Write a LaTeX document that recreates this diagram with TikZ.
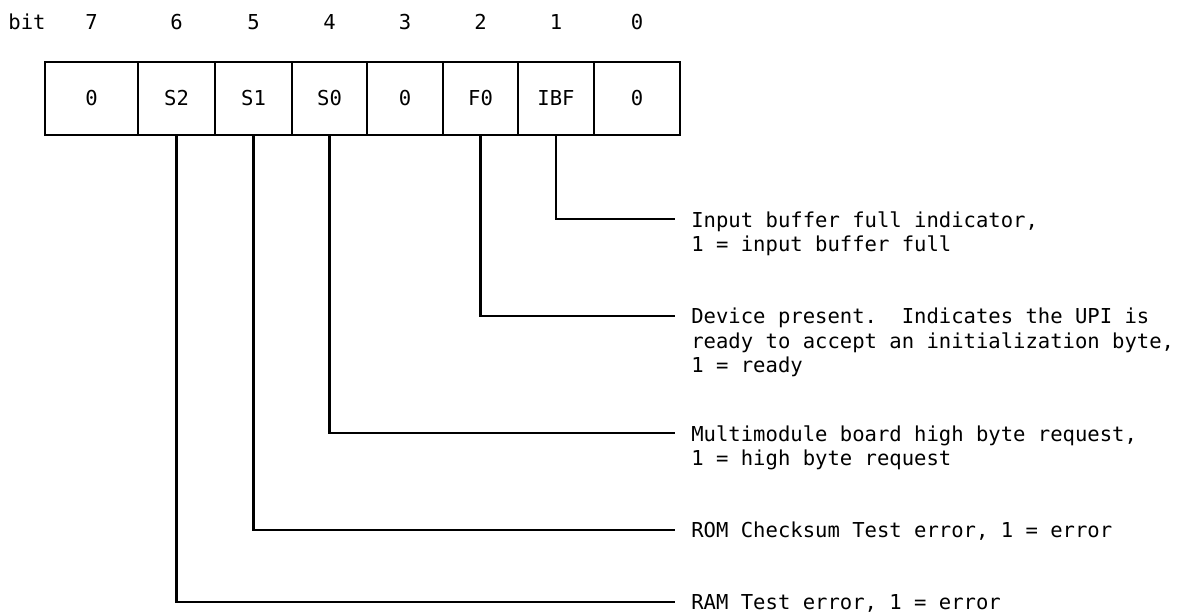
\documentclass[tikz,border=0pt]{standalone}
\usepackage{fontspec}
\setmonofont{DejaVu Sans Mono}
\usetikzlibrary{positioning,calc}

\newcommand{\regfont}{\ttfamily\fontsize{11.7}{13.7}\selectfont}

\tikzset{
  regcell/.style={draw, line width=1.3pt, minimum height=1.46cm, inner sep=0pt, font=\regfont},
  bitnum/.style={inner sep=0pt, font=\regfont},
  lead/.style={line width=1.7pt},
  desc/.style={anchor=north west, align=left, inner sep=0pt, font=\regfont},
}

\begin{document}
\begin{tikzpicture}
\useasboundingbox (0,0) rectangle (23.58,-12.3);

% register cells, bit 7 down to bit 0
\foreach \nm/\x/\w/\txt in {7/1.83/1.86/0, 6/3.53/1.54/S2, 5/5.07/1.54/S1, 4/6.59/1.50/S0,
                            3/8.10/1.52/0, 2/9.61/1.50/F0, 1/11.12/1.52/IBF, 0/12.74/1.72/0}{
  \node[regcell, minimum width=\w cm] (c\nm) at (\x,-1.97) {\txt};
  \node[bitnum] (b\nm) at (\x,-0.44) {\nm};
}
\node[bitnum] (bit) at (0.54,-0.44) {bit};

% description ends
\coordinate (e1) at (13.5,-4.38);
\coordinate (e2) at (13.5,-6.32);
\coordinate (e4) at (13.5,-8.66);
\coordinate (e5) at (13.5,-10.60);
\coordinate (e6) at (13.5,-12.04);

\draw[lead] (c1.south) |- (e1);
\draw[lead] (c2.south) |- (e2);
\draw[lead] (c4.south) |- (e4);
\draw[lead] (c5.south) |- (e5);
\draw[lead] (c6.south) |- (e6);

\node[desc] (d1) at ($(e1)+(0.32,0.16)$) {Input buffer full indicator,\\1 = input buffer full};
\node[desc] (d2) at ($(e2)+(0.32,0.16)$) {Device present.\ \ Indicates the UPI is\\ready to accept an initialization byte,\\1 = ready};
\node[desc] (d4) at ($(e4)+(0.32,0.16)$) {Multimodule board high byte request,\\1 = high byte request};
\node[desc] (d5) at ($(e5)+(0.32,0.16)$) {ROM Checksum Test error, 1 = error};
\node[desc] (d6) at ($(e6)+(0.32,0.16)$) {RAM Test error, 1 = error};
\end{tikzpicture}
\end{document}
